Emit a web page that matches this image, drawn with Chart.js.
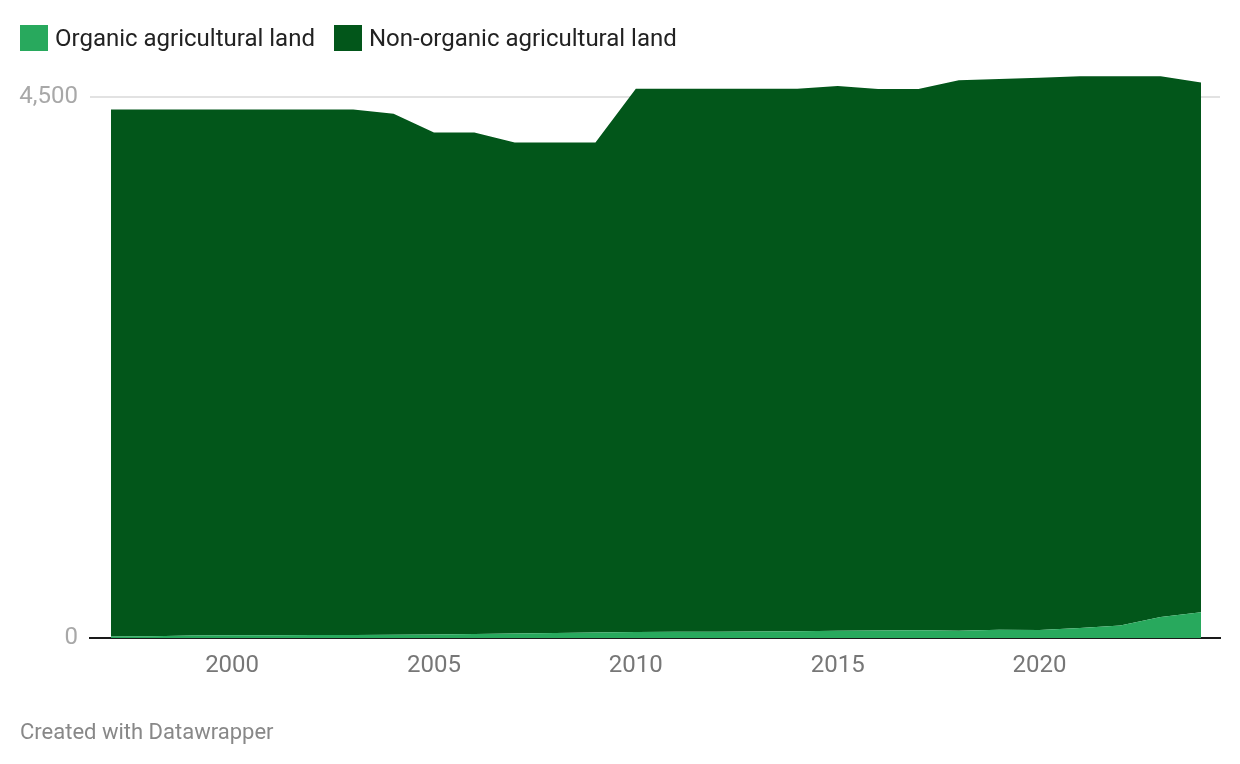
<!DOCTYPE html>
<html>
<head>
<meta charset="utf-8">
<script src="https://cdn.jsdelivr.net/npm/chart.js@4"></script>
<style>
    html, body { margin: 0; padding: 0; background: #fff; }
    body { width: 1240px; height: 764px; position: relative; overflow: hidden; font-family: Roboto, sans-serif; }
    #chart-wrap { position: absolute; left: 0; top: 0; width: 1240px; height: 764px; }
    .legend { position: absolute; left: 20px; top: 25px; height: 26px; display: flex; align-items: center; font-size: 24px; color: #222; }
    .legend .item { display: flex; align-items: center; margin-right: 19px; }
    .legend .sw { width: 28px; height: 26px; margin-right: 7px; }
    .footer { position: absolute; left: 20px; top: 719px; font-size: 22px; color: #888; }
</style>
</head>
<body>
<div id="chart-wrap"><canvas id="chart"></canvas></div>
<div class="legend">
    <div class="item"><span class="sw" style="background:#28a95d"></span>Organic agricultural land</div>
    <div class="item"><span class="sw" style="background:#02561a"></span>Non-organic agricultural land</div>
</div>
<div class="footer">Created with Datawrapper</div>
<script>
const years = [1997, 1998, 1999, 2000, 2001, 2002, 2003, 2004, 2005, 2006, 2007, 2008, 2009, 2010,
    2011, 2012, 2013, 2014, 2015, 2016, 2017, 2018, 2019, 2020, 2021, 2022, 2023, 2024];
const organic = [12, 15, 20, 22, 22, 24, 25, 27, 30, 34, 37, 42, 45, 50,
    52, 53, 55, 57, 60, 63, 65, 60, 68, 67, 84, 105, 175, 215];
const nonOrganic = [4385, 4382, 4377, 4375, 4375, 4373, 4372, 4335, 4175, 4171, 4085, 4080, 4077, 4520,
    4518, 4517, 4515, 4513, 4532, 4504, 4502, 4579, 4582, 4594, 4588, 4567, 4497, 4405];
const xTicks = [2000, 2005, 2010, 2015, 2020];
const yTicks = [0, 4500];

const toPoints = arr => arr.map((v, i) => ({ x: years[i], y: v }));

new Chart(document.querySelector('#chart'), {
    type: 'line',
    data: {
        datasets: [
            {
                label: 'Organic agricultural land',
                data: toPoints(organic),
                backgroundColor: '#28a95d',
                borderWidth: 0,
                pointRadius: 0,
                fill: 'origin',
            },
            {
                label: 'Non-organic agricultural land',
                data: toPoints(nonOrganic),
                backgroundColor: '#02561a',
                borderWidth: 0,
                pointRadius: 0,
                fill: '-1',
            }
        ]
    },
    options: {
        responsive: true,
        maintainAspectRatio: false,
        animation: false,
        layout: { padding: { left: 0, right: 20, top: 70.6, bottom: 86 } },
        plugins: {
            legend: { display: false },
            tooltip: { enabled: false }
        },
        scales: {
            x: {
                type: 'linear',
                min: 1996.48,
                max: 2024.47,
                afterBuildTicks: scale => { scale.ticks = xTicks.map(v => ({ value: v })); },
                afterFit: scale => { scale.height = 40; },
                grid: { display: false, drawTicks: false },
                border: { display: true, color: '#1a1a1a', width: 2 },
                ticks: {
                    padding: 14,
                    color: '#777',
                    font: { family: 'Roboto', size: 24 },
                    callback: v => String(v)
                }
            },
            y: {
                stacked: true,
                min: 0,
                max: 4720,
                afterBuildTicks: scale => { scale.ticks = yTicks.map(v => ({ value: v })); },
                afterFit: scale => { scale.width = 90; },
                grid: {
                    drawTicks: false,
                    color: ctx => ctx.tick && ctx.tick.value === 0 ? 'rgba(0,0,0,0)' : '#e2e2e2',
                    lineWidth: 2
                },
                border: { display: false },
                ticks: {
                    padding: 12,
                    color: '#a8a8a8',
                    font: { family: 'Roboto', size: 24 },
                    callback: v => v.toLocaleString('en-US')
                }
            }
        }
    }
});
</script>
</body>
</html>
